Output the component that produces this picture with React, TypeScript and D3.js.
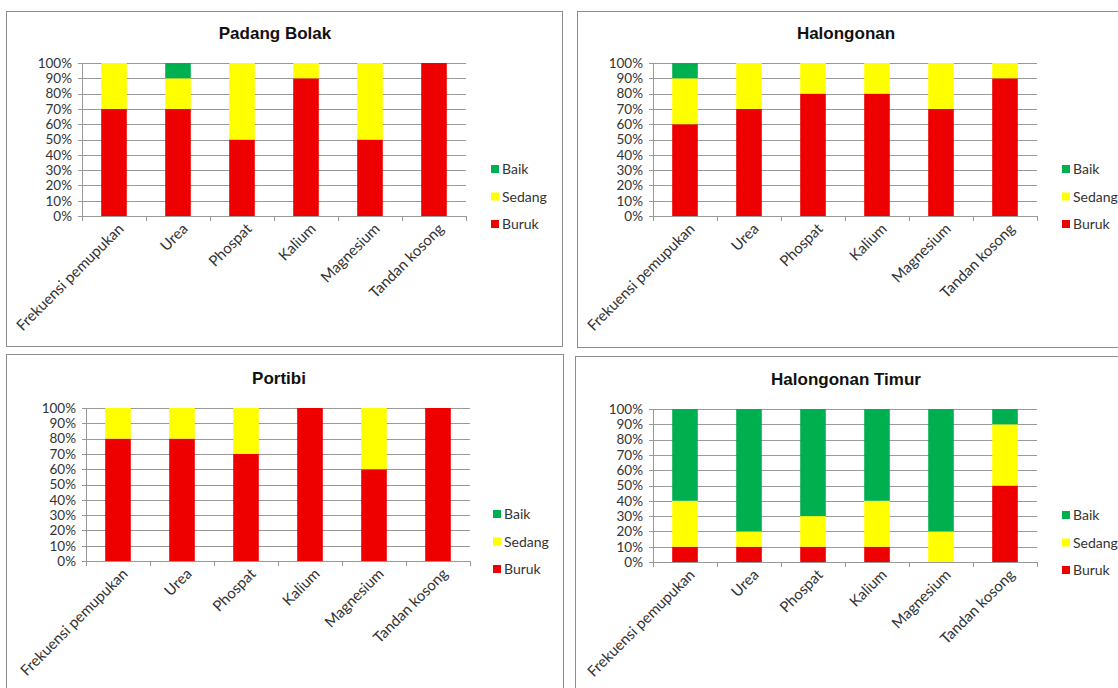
import React from 'react';
import * as d3 from 'd3';

// categories on the x axis (same for all four charts)
const categories = ['Frekuensi pemupukan', 'Urea', 'Phospat', 'Kalium', 'Magnesium', 'Tandan kosong'];
const seriesNames = ['Buruk', 'Sedang', 'Baik'];
const yTicks = [0, 10, 20, 30, 40, 50, 60, 70, 80, 90, 100];

// percentages per region
const padangBolakBuruk = [70, 70, 50, 90, 50, 100];
const padangBolakSedang = [30, 20, 50, 10, 50, 0];
const padangBolakBaik = [0, 10, 0, 0, 0, 0];

const halongonanBuruk = [60, 70, 80, 80, 70, 90];
const halongonanSedang = [30, 30, 20, 20, 30, 10];
const halongonanBaik = [10, 0, 0, 0, 0, 0];

const portibiBuruk = [80, 80, 70, 100, 60, 100];
const portibiSedang = [20, 20, 30, 0, 40, 0];
const portibiBaik = [0, 0, 0, 0, 0, 0];

const timurBuruk = [10, 10, 10, 10, 0, 50];
const timurSedang = [30, 10, 20, 30, 20, 40];
const timurBaik = [60, 80, 70, 60, 80, 10];

const colors = { Buruk: '#ee0000', Sedang: '#ffff00', Baik: '#00b050' };

// panel frames and plot boxes
const panels = [
    { title: 'Padang Bolak', buruk: padangBolakBuruk, sedang: padangBolakSedang, baik: padangBolakBaik,
      box: [6.5, 11.5, 556, 335], plot: { left: 82, right: 466, top: 63, bottom: 216 }, legendX: 491 },
    { title: 'Halongonan', buruk: halongonanBuruk, sedang: halongonanSedang, baik: halongonanBaik,
      box: [577.5, 11.5, 560, 336], plot: { left: 653, right: 1037, top: 63, bottom: 216 }, legendX: 1062 },
    { title: 'Portibi', buruk: portibiBuruk, sedang: portibiSedang, baik: portibiBaik,
      box: [6.5, 354.5, 557, 360], plot: { left: 86, right: 470, top: 408, bottom: 561 }, legendX: 493 },
    { title: 'Halongonan Timur', buruk: timurBuruk, sedang: timurSedang, baik: timurBaik,
      box: [575.5, 356.5, 560, 360], plot: { left: 653, right: 1037, top: 409, bottom: 562 }, legendX: 1062 },
];

const labelFont = 'Lato, "Open Sans", sans-serif';

const App = () => {
    const svgRef = React.useRef(null);

    React.useEffect(() => {
        const svg = d3.select(svgRef.current);
        svg.selectAll('*').remove();
        svg.append('rect').attr('width', 1118).attr('height', 688).attr('fill', '#fff');

        panels.forEach(p => {
            const g = svg.append('g');
            g.append('rect')
                .attr('x', p.box[0]).attr('y', p.box[1])
                .attr('width', p.box[2]).attr('height', p.box[3])
                .attr('fill', '#fff').attr('stroke', '#8c8c8c').attr('stroke-width', 1);

            const { left, right, top, bottom } = p.plot;
            const x = d3.scaleBand().domain(categories).range([left, right]);
            const y = d3.scaleLinear().domain([0, 100]).range([bottom, top]);

            g.append('text')
                .attr('x', (left + right) / 2 + 1).attr('y', top - 24)
                .attr('text-anchor', 'middle')
                .attr('font-family', '"Liberation Sans", Arial, sans-serif')
                .attr('font-weight', 'bold').attr('font-size', 17)
                .attr('fill', '#111')
                .text(p.title);

            // gridlines
            g.append('g').selectAll('line').data(yTicks).join('line')
                .attr('x1', left - 4).attr('x2', right)
                .attr('y1', d => Math.round(y(d)) + 0.5).attr('y2', d => Math.round(y(d)) + 0.5)
                .attr('stroke', '#999').attr('stroke-width', 1);

            // y labels
            g.append('g').selectAll('text').data(yTicks).join('text')
                .attr('x', left - 10).attr('y', d => y(d))
                .attr('dy', '0.36em').attr('text-anchor', 'end')
                .attr('font-family', labelFont).attr('font-size', 13.5).attr('fill', '#333')
                .text(d => d + '%');

            // y axis line
            g.append('line')
                .attr('x1', left + 0.5).attr('x2', left + 0.5)
                .attr('y1', top).attr('y2', bottom)
                .attr('stroke', '#999');

            // stacked bars
            const rows = categories.map((c, i) => ({ cat: c, Buruk: p.buruk[i], Sedang: p.sedang[i], Baik: p.baik[i] }));
            const stacked = d3.stack().keys(seriesNames)(rows);
            const bw = x.bandwidth() * 0.4;
            g.append('g').selectAll('g').data(stacked).join('g')
                .attr('fill', s => colors[s.key])
                .selectAll('rect').data(s => s).join('rect')
                .attr('x', d => x(d.data.cat) + (x.bandwidth() - bw) / 2)
                .attr('width', bw)
                .attr('y', d => y(d[1]))
                .attr('height', d => y(d[0]) - y(d[1]));

            // x axis ticks at band edges
            const edges = categories.map(c => x(c)).concat([right]);
            g.append('g').selectAll('line').data(edges).join('line')
                .attr('x1', d => Math.round(d) + 0.5).attr('x2', d => Math.round(d) + 0.5)
                .attr('y1', bottom).attr('y2', bottom + 5)
                .attr('stroke', '#999');

            // x labels
            g.append('g').selectAll('text').data(categories).join('text')
                .attr('transform', c => `translate(${x(c) + x.bandwidth() / 2 + 7},${bottom + 10}) rotate(-45)`)
                .attr('text-anchor', 'end').attr('dy', '0.35em')
                .attr('font-family', labelFont).attr('font-size', 15).attr('fill', '#333')
                .text(c => c);

            // legend (Baik on top)
            const legend = [...seriesNames].reverse();
            const lg = g.append('g').selectAll('g').data(legend).join('g')
                .attr('transform', (d, i) => `translate(${p.legendX},${bottom - 47 + i * 27.5})`);
            lg.append('rect').attr('x', 0).attr('y', -4).attr('width', 8).attr('height', 8)
                .attr('fill', d => colors[d]);
            lg.append('text').attr('x', 11).attr('dy', '0.36em')
                .attr('font-family', labelFont).attr('font-size', 14).attr('fill', '#333')
                .text(d => d);
        });
    }, []);

    return (
        <svg ref={svgRef} width={1118} height={688} style={{ position: 'absolute', left: 0, top: 0 }}></svg>
    );
};

export default App;
